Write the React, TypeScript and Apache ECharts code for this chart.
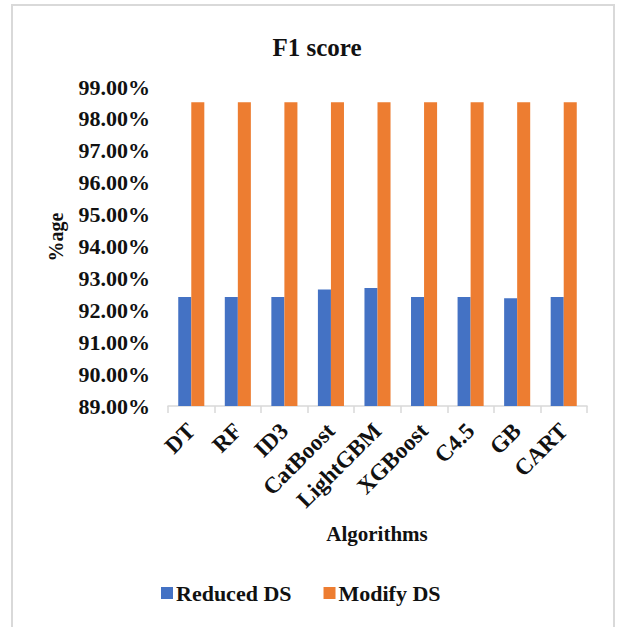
import React, { useEffect, useRef } from "react";
import * as echarts from "echarts";

const algorithms = ["DT", "RF", "ID3", "CatBoost", "LightGBM", "XGBoost", "C4.5", "GB", "CART"];
const reducedDS = [92.42, 92.42, 92.42, 92.65, 92.7, 92.42, 92.42, 92.38, 92.42];
const modifyDS = [98.52, 98.52, 98.52, 98.52, 98.52, 98.52, 98.52, 98.52, 98.52];
const seriesNames = ["Reduced DS", "Modify DS"];
const yMin = 89;
const yMax = 99;

const serif = "Liberation Serif, serif";
const ink = "#111111";

export default function App() {
  const ref = useRef<HTMLDivElement>(null);

  useEffect(() => {
    if (!ref.current) return;
    const chart = echarts.init(ref.current, undefined, { renderer: "svg" });
    chart.setOption({
      animation: false,
      backgroundColor: "#ffffff",
      title: {
        text: "F1 score",
        left: 312,
        textAlign: "center",
        top: 30,
        textStyle: { fontFamily: serif, fontWeight: "bold", fontSize: 25, color: ink },
      },
      grid: { left: 168, right: 31, top: 87, bottom: 221, containLabel: false },
      legend: {
        data: seriesNames,
        bottom: 18,
        left: 156,
        icon: "rect",
        itemWidth: 12,
        itemHeight: 12,
        itemGap: 32,
        textStyle: { fontFamily: serif, fontWeight: "bold", fontSize: 22, color: ink, padding: [0, 0, 0, -2] },
      },
      xAxis: {
        type: "category",
        data: algorithms,
        axisLine: { lineStyle: { color: "#d9d9d9", width: 1.5 } },
        axisTick: { show: true, length: 7, lineStyle: { color: "#d9d9d9", width: 1.5 } },
        axisLabel: {
          rotate: 45,
          margin: 21,
          interval: 0,
          fontFamily: serif,
          fontWeight: "bold",
          fontSize: 23,
          color: ink,
        },
      },
      yAxis: {
        type: "value",
        min: yMin,
        max: yMax,
        interval: 1,
        axisLine: { show: false },
        axisTick: { show: false },
        splitLine: { show: false },
        axisLabel: {
          margin: 18,
          fontFamily: serif,
          fontWeight: "bold",
          fontSize: 22,
          color: ink,
          formatter: (v: number) => `${v.toFixed(2)}%`,
        },
      },
      series: [
        {
          name: seriesNames[0],
          type: "bar",
          data: reducedDS,
          barGap: "0%",
          barCategoryGap: "44%",
          itemStyle: { color: "#4472C4" },
        },
        {
          name: seriesNames[1],
          type: "bar",
          data: modifyDS,
          barGap: "0%",
          barCategoryGap: "44%",
          itemStyle: { color: "#ED7D31" },
        },
      ],
      graphic: [
        {
          type: "rect",
          shape: { x: 12, y: 5, width: 602, height: 640 },
          style: { fill: "none", stroke: "#d9d9d9", lineWidth: 2 },
          silent: true,
          z: -1,
        },
        {
          type: "text",
          x: 56,
          y: 237,
          rotation: Math.PI / 2,
          style: {
            text: "%age",
            fontFamily: serif,
            fontWeight: "bold",
            fontSize: 20,
            fill: ink,
            textAlign: "center",
            textVerticalAlign: "middle",
          },
        },
        {
          type: "text",
          x: 377,
          y: 534,
          style: {
            text: "Algorithms",
            fontFamily: serif,
            fontWeight: "bold",
            fontSize: 21,
            fill: ink,
            textAlign: "center",
            textVerticalAlign: "middle",
          },
        },
      ],
    });
    return () => chart.dispose();
  }, []);

  return (
    <div
      ref={ref}
      style={{ position: "absolute", left: 0, top: 0, width: 618, height: 627 }}
    />
  );
}
